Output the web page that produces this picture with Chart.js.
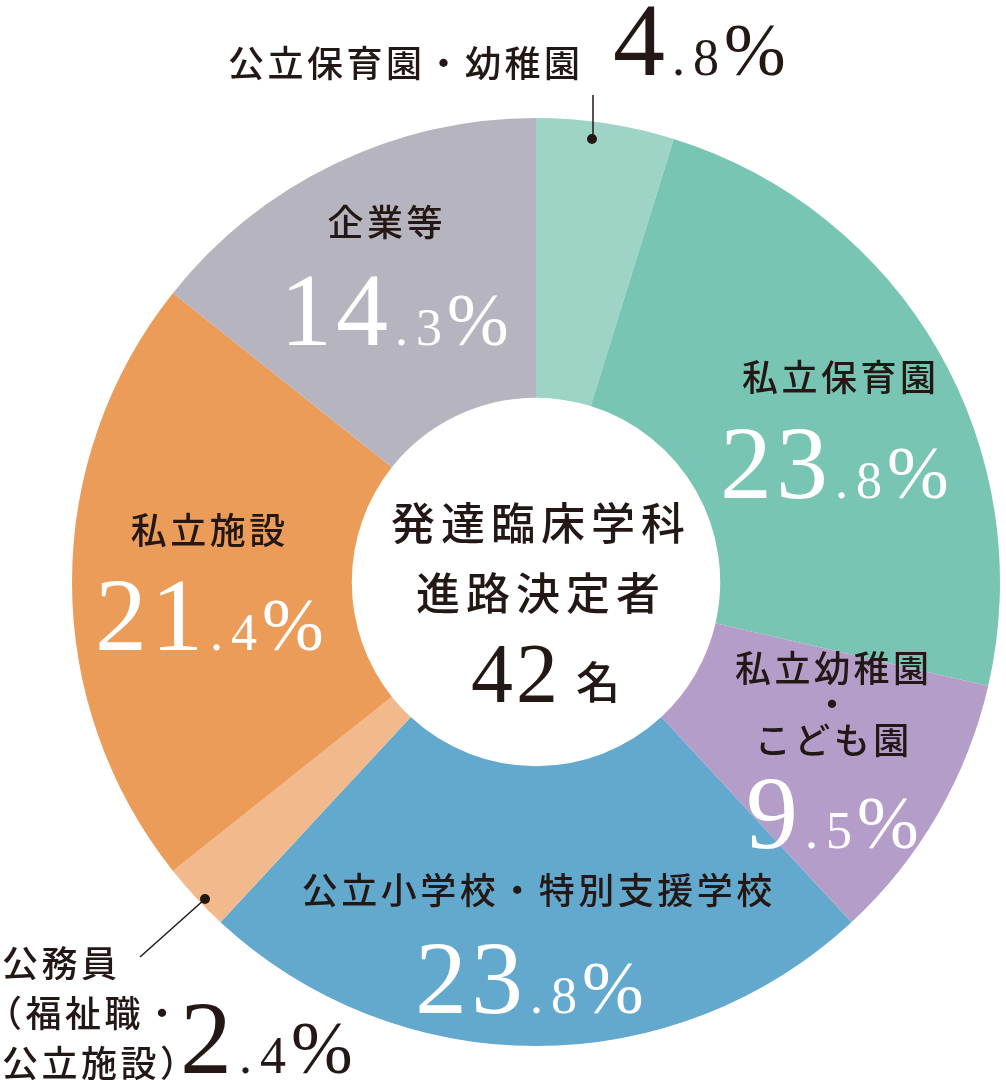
<!DOCTYPE html>
<html lang="ja">
<head>
<meta charset="utf-8">
<script src="https://cdn.jsdelivr.net/npm/chart.js@4.4.1/dist/chart.umd.min.js"></script>
<style>
  body { margin: 0; background: #fff; }
  #wrap { position: relative; width: 1006px; height: 1080px; }
</style>
</head>
<body>
<div id="wrap"><canvas id="myChart"></canvas></div>
<script>
// 進路先（発達臨床学科 進路決定者 42名）
const categories = [
  '公立保育園・幼稚園',
  '私立保育園',
  '私立幼稚園・こども園',
  '公立小学校・特別支援学校',
  '公務員（福祉職・公立施設）',
  '私立施設',
  '企業等',
]
const percents = [4.8, 23.8, 9.5, 23.8, 2.4, 21.4, 14.3]
const totalCount = 42
const centerLines = ['発達臨床学科', '進路決定者']

const colors = ['#9dd4c5', '#79c5b3', '#b59dc9', '#63a9cd', '#f2ba8c', '#eb9c59', '#b6b4bf']

// how each label is split into lines on the picture
const labelLines = [
  ['公立保育園・幼稚園'],
  ['私立保育園'],
  ['私立幼稚園', '・', 'こども園'],
  ['公立小学校・特別支援学校'],
  ['公務員', '（福祉職・', '公立施設）'],
  ['私立施設'],
  ['企業等'],
]
// label / value placement
const labelPos = [
  { x: 228, y: 63, align: 'left', vx: 613, vy: 75, outside: true },
  { x: 839, y: 377, vx: 720, vy: 498 },
  { x: 832, y: 668, lh: 36, vx: 746, vy: 848 },
  { x: 537, y: 890, vx: 415, vy: 1013 },
  { x: 2, y: 963, lh: 50, align: 'left', vx: 180, vy: 1073, outside: true },
  { x: 208, y: 530, vx: 95, vy: 650 },
  { x: 385, y: 222, vx: 280, vy: 345 },
]

const DARK = '#231815'
const JP = '"Noto Sans CJK JP", "Noto Sans", sans-serif'
const SERIF = '"Liberation Serif", "DejaVu Serif", serif'

function drawValue(ctx, x, y, v, color) {
  const parts = v.toFixed(1).split('.')
  ctx.fillStyle = color
  ctx.textAlign = 'left'
  ctx.textBaseline = 'alphabetic'
  ctx.font = '104px ' + SERIF
  ctx.letterSpacing = '4px'
  ctx.fillText(parts[0], x, y)
  let cx = x + ctx.measureText(parts[0]).width + 3
  ctx.font = '52px ' + SERIF
  ctx.letterSpacing = '8px'
  ctx.fillText('.' + parts[1], cx, y)
  cx += ctx.measureText('.' + parts[1]).width - 3
  ctx.font = '74px ' + SERIF
  ctx.letterSpacing = '0px'
  ctx.fillText('%', cx, y)
}

const textPlugin = {
  id: 'textPlugin',
  afterDraw(chart) {
    const ctx = chart.ctx
    ctx.save()

    // leader lines for the two thin slices
    ctx.strokeStyle = DARK
    ctx.fillStyle = DARK
    ctx.lineWidth = 1.5
    ctx.beginPath()
    ctx.moveTo(593, 95)
    ctx.lineTo(593, 139)
    ctx.moveTo(140, 957)
    ctx.lineTo(205, 899)
    ctx.stroke()
    ctx.beginPath()
    ctx.arc(592, 139, 5, 0, Math.PI * 2)
    ctx.arc(205, 899, 5, 0, Math.PI * 2)
    ctx.fill()

    labelLines.forEach(function (lines, i) {
      const p = labelPos[i]
      ctx.fillStyle = DARK
      ctx.font = '500 36px ' + JP
      ctx.letterSpacing = '3.5px'
      ctx.textAlign = p.align || 'center'
      ctx.textBaseline = 'middle'
      lines.forEach(function (t, j) {
        // full-width opening paren sits tight to the left edge in the picture
        const dx = p.align ? (t.charAt(0) === '（' ? -16 : 0) : 1.75
        ctx.fillText(t, p.x + dx, p.y + j * (p.lh || 0))
      })
      drawValue(ctx, p.vx, p.vy, percents[i], p.outside ? DARK : '#ffffff')
    })

    // center text
    ctx.fillStyle = DARK
    ctx.font = '500 44px ' + JP
    ctx.letterSpacing = '6px'
    ctx.textAlign = 'center'
    ctx.textBaseline = 'middle'
    ctx.fillText(centerLines[0], 541, 523)
    ctx.fillText(centerLines[1], 541, 593)
    ctx.textAlign = 'left'
    ctx.textBaseline = 'alphabetic'
    ctx.font = '84px ' + SERIF
    ctx.letterSpacing = '3px'
    ctx.fillText(String(totalCount), 471, 702)
    ctx.font = '500 44px ' + JP
    ctx.letterSpacing = '0px'
    ctx.textBaseline = 'middle'
    ctx.fillText('名', 576, 682)

    ctx.restore()
  },
}

const data = {
  labels: categories,
  datasets: [
    {
      data: percents,
      backgroundColor: colors,
      borderWidth: 0,
    },
  ],
}

const config = {
  type: 'doughnut',
  data: data,
  options: {
    responsive: true,
    maintainAspectRatio: false,
    animation: false,
    cutout: '39.7%',
    layout: {
      padding: { left: 72, right: 6, top: 118, bottom: 34 },
    },
    plugins: {
      legend: { display: false },
      tooltip: { enabled: false },
    },
  },
  plugins: [textPlugin],
}

const myChart = new Chart(document.getElementById('myChart'), config)
</script>
</body>
</html>
